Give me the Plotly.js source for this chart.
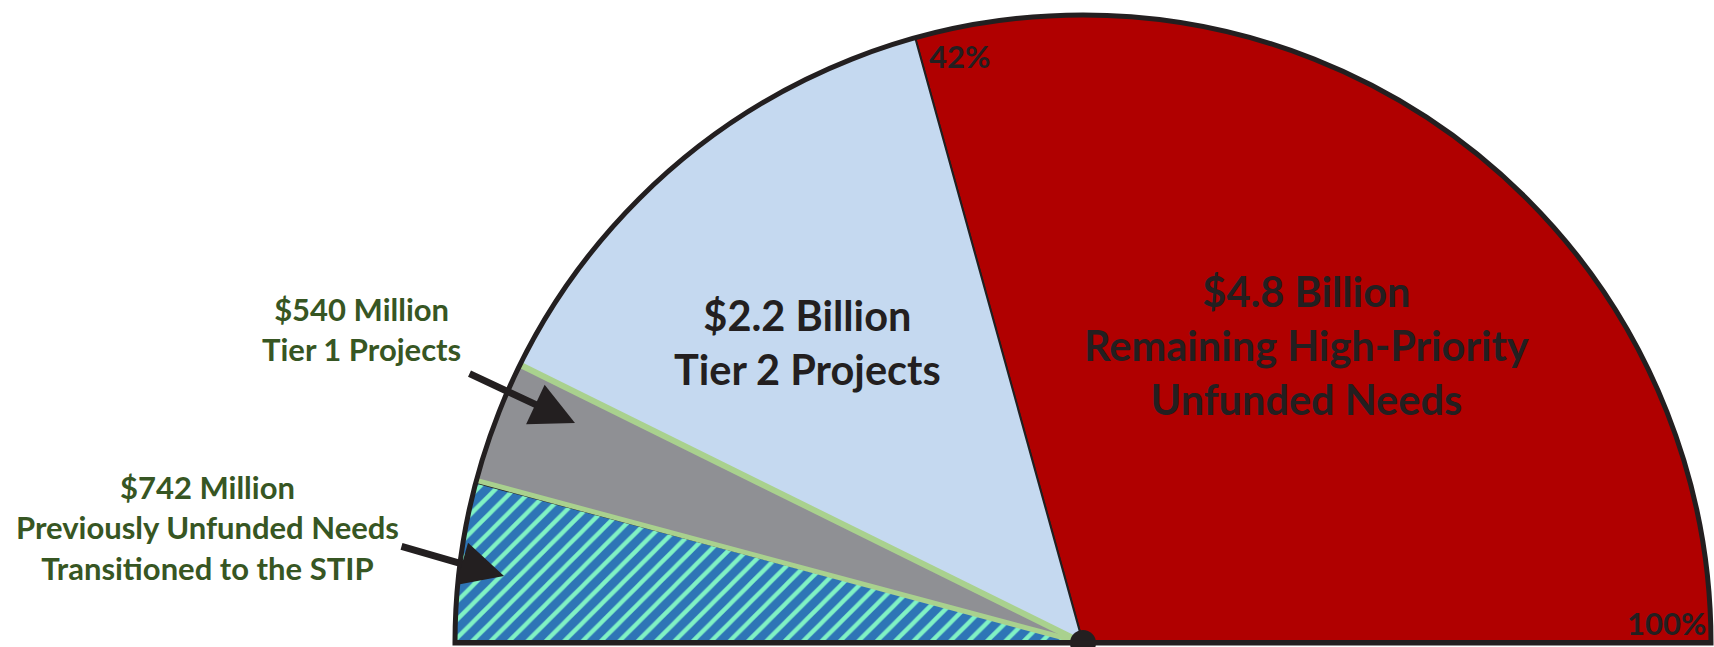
<!DOCTYPE html>
<html>
<head>
<meta charset="utf-8">
<script src="https://cdn.plot.ly/plotly-3.0.1.min.js"></script>
<style>
  html, body { margin: 0; padding: 0; background: #ffffff; overflow: hidden; }
  #chart { width: 1714px; height: 647px; }
</style>
</head>
<body>
<div id="chart"></div>
<script>
// ---- data ----
const segmentNames = ['Previously Unfunded Needs Transitioned to the STIP', 'Tier 1 Projects', 'Tier 2 Projects', 'Remaining High-Priority Unfunded Needs'];
const amountLabels = ['$742 Million', '$540 Million', '$2.2 Billion', '$4.8 Billion'];
const descLines = [['Previously Unfunded Needs', 'Transitioned to the STIP'], ['Tier 1 Projects'], ['Tier 2 Projects'], ['Remaining High-Priority', 'Unfunded Needs']];
// angular span of each wedge on the half-circle gauge (degrees, left to right)
const gaugeSpanDeg = [15.0, 11.3, 48.2, 105.5];
const percentMarks = ['42%', '100%'];

// ---- styles ----
const W = 1714, H = 647;
const DARK = '#231f20';
const GREEN_TXT = '#375623';
const GREEN_LINE = '#a9d18e';
const fills = ['#2e75b6', '#8f9094', '#c5d9f0', '#b00000'];
const FONT = 'Lato, "Open Sans", sans-serif';
const px = x => x / W;
const py = y => 1 - y / H;

// cumulative angles
const starts = [];
let acc = 0;
gaugeSpanDeg.forEach(s => { starts.push(acc); acc += s; });
const centers = gaugeSpanDeg.map((s, i) => starts[i] + s / 2);

function wedge(i, line, pattern) {
  const m = { color: fills[i], line: line };
  if (pattern) m.pattern = pattern;
  return {
    type: 'barpolar', r: [1], theta: [centers[i]], width: [gaugeSpanDeg[i]],
    name: segmentNames[i], marker: m, hoverinfo: 'skip', showlegend: false
  };
}
function ray(theta, color, width) {
  return {
    type: 'scatterpolar', mode: 'lines', r: [0, 1], theta: [theta, theta],
    line: { color: color, width: width }, hoverinfo: 'skip', cliponaxis: false, showlegend: false
  };
}

const traces = [
  wedge(3, { color: DARK, width: 2 }),
  wedge(2, { color: DARK, width: 2 }),
  wedge(1, { color: fills[1], width: 0 }),
  wedge(0, { color: DARK, width: 0 }, { shape: '/', bgcolor: fills[0], fgcolor: '#80f2c4', size: 13, solidity: 0.33, fillmode: 'replace' }),
  ray(starts[1] - 0.22, DARK, 1.6),
  ray(starts[1], GREEN_LINE, 5),
  ray(starts[2], GREEN_LINE, 6),
  {
    type: 'scatterpolar', mode: 'lines', r: [1, 0, 1], theta: [0, 0, acc],
    line: { color: DARK, width: 6 }, hoverinfo: 'skip', cliponaxis: false, showlegend: false
  },
  {
    type: 'scatterpolar', mode: 'markers', r: [0], theta: [0],
    marker: { color: DARK, size: 26 }, hoverinfo: 'skip', cliponaxis: false, showlegend: false
  }
];

function label(lines, x, y, size, color) {
  return {
    xref: 'paper', yref: 'paper', x: px(x), y: py(y), xanchor: 'center', yanchor: 'middle',
    text: '<b>' + lines.join('<br>') + '</b>', showarrow: false, align: 'center',
    font: { family: FONT, size: size, color: color }
  };
}
function arrow(hx, hy, tx, ty) {
  return {
    xref: 'paper', yref: 'paper', x: px(hx), y: py(hy), text: '', showarrow: true,
    ax: tx - hx, ay: ty - hy, arrowhead: 2, arrowsize: 1.25, arrowwidth: 7, arrowcolor: DARK,
    standoff: 0, startstandoff: 0
  };
}

const annotations = [
  label([amountLabels[3]].concat(descLines[3]), 1306, 345, 41.5, DARK),
  label([amountLabels[2]].concat(descLines[2]), 807, 342, 41.5, DARK),
  label([amountLabels[1]].concat(descLines[1]), 361, 329, 31, GREEN_TXT),
  label([amountLabels[0]].concat(descLines[0]), 207, 527, 31, GREEN_TXT),
  label([percentMarks[0]], 959, 56, 31, DARK),
  label([percentMarks[1]], 1666, 623, 31, DARK),
  arrow(575, 423, 468, 373),
  arrow(504, 576, 400, 546)
];

const layout = {
  width: W, height: H,
  margin: { l: 0, r: 0, t: 0, b: 0 },
  paper_bgcolor: '#ffffff',
  showlegend: false,
  polar: {
    domain: { x: [455 / W, 1711 / W], y: [4 / H, 632 / H] },
    sector: [0, 180],
    hole: 0,
    bgcolor: 'rgba(0,0,0,0)',
    angularaxis: {
      direction: 'clockwise', rotation: 180, thetaunit: 'degrees',
      showgrid: false, showticklabels: false, ticks: '',
      showline: true, linewidth: 5, linecolor: DARK
    },
    radialaxis: { range: [0, 1], visible: false }
  },
  annotations: annotations
};

Plotly.newPlot('chart', traces, layout, { displayModeBar: false, staticPlot: true });
</script>
</body>
</html>
